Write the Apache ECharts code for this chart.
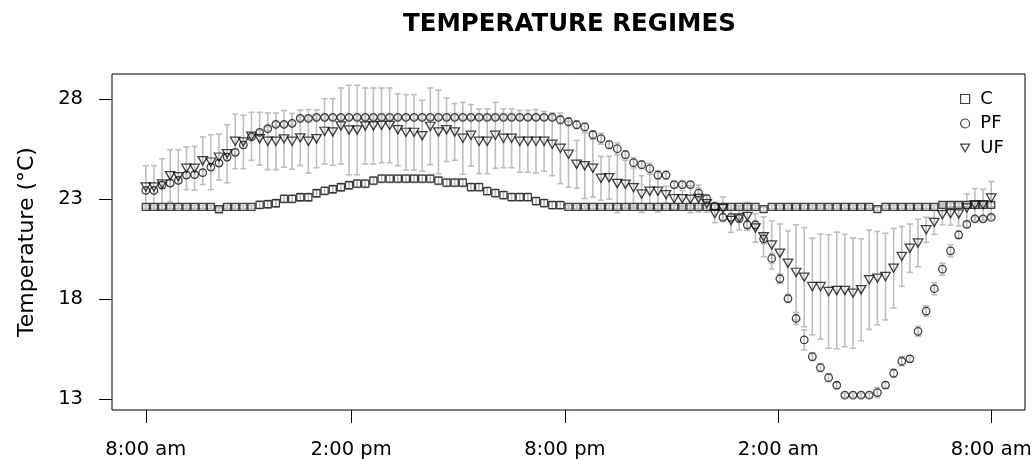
<!DOCTYPE html>
<html><head><meta charset="utf-8">
<script src="https://cdn.jsdelivr.net/npm/echarts@6/dist/echarts.min.js"></script>
<style>html,body{margin:0;padding:0;background:#fff}#c{width:1036px;height:459px}</style>
</head><body><div id="c"></div>
<script>
// Series means (index 1..105, equally spaced over 24 h)
const C_mean = [22.62,22.62,22.62,22.62,22.62,22.62,22.62,22.62,22.62,22.5,
  22.62,22.62,22.62,22.62,22.72,22.75,22.8,23.02,23.02,23.1,
  23.1,23.3,23.42,23.5,23.6,23.7,23.78,23.78,23.93,24.03,
  24.03,24.03,24.03,24.03,24.03,24.03,23.93,23.83,23.83,23.83,
  23.61,23.61,23.41,23.31,23.21,23.11,23.11,23.11,22.91,22.81,
  22.71,22.71,22.62,22.62,22.62,22.62,22.62,22.62,22.62,22.62,
  22.62,22.62,22.62,22.62,22.62,22.62,22.62,22.62,22.62,22.62,
  22.62,22.62,22.62,22.62,22.62,22.62,22.51,22.62,22.62,22.62,
  22.62,22.62,22.62,22.62,22.62,22.62,22.62,22.62,22.62,22.62,
  22.51,22.62,22.62,22.62,22.62,22.62,22.62,22.62,22.72,22.72,
  22.72,22.72,22.72,22.72,22.72];
const PF_mean = [23.44,23.44,23.71,23.81,23.94,24.21,24.23,24.33,24.61,24.81,
  25.11,25.35,25.72,26.12,26.35,26.53,26.75,26.75,26.8,27.05,
  27.05,27.1,27.1,27.1,27.1,27.1,27.1,27.1,27.1,27.1,
  27.1,27.1,27.1,27.1,27.1,27.1,27.1,27.1,27.1,27.1,
  27.1,27.1,27.1,27.1,27.1,27.1,27.1,27.1,27.1,27.1,
  27.1,26.98,26.88,26.73,26.62,26.23,26.03,25.73,25.53,25.23,
  24.83,24.73,24.53,24.21,24.21,23.73,23.73,23.73,23.31,23.03,
  22.64,22.09,22.09,22.04,21.72,21.72,21.02,20.04,19.02,18.03,
  17.03,15.96,15.12,14.57,14.07,13.69,13.19,13.19,13.19,13.19,
  13.32,13.7,14.29,14.89,15.01,16.39,17.4,18.52,19.5,20.42,
  21.22,21.74,22.02,22.02,22.09];
const UF_mean = [23.61,23.61,23.76,24.18,24.13,24.55,24.55,24.93,24.86,25.11,
  25.28,25.9,25.87,26.15,26.03,25.9,25.9,26.02,25.9,26.07,
  25.9,26.03,26.4,26.37,26.67,26.47,26.47,26.67,26.67,26.7,
  26.7,26.48,26.35,26.35,26.18,26.65,26.37,26.48,26.37,26.05,
  26.2,25.9,25.9,26.2,26.05,26.05,25.9,25.9,25.9,25.9,
  25.75,25.55,25.25,24.75,24.68,24.55,24.05,24.08,23.79,23.75,
  23.58,23.26,23.4,23.4,23.23,23.03,23.03,23.0,23.04,22.78,
  22.28,22.54,21.94,22.06,22.14,21.56,21.12,20.71,20.3,19.8,
  19.34,19.1,18.63,18.63,18.38,18.43,18.43,18.3,18.47,18.97,
  19.05,19.13,19.55,20.14,20.55,20.81,21.47,21.84,22.23,22.28,
  22.26,22.56,22.73,22.73,23.06];
// Error half-widths
const C_err = [0.08,0.08,0.08,0.08,0.08,0.08,0.08,0.08,0.08,0.08,
  0.08,0.08,0.08,0.08,0.2,0.2,0.2,0.2,0.2,0.2,
  0.2,0.2,0.2,0.2,0.2,0.2,0.2,0.2,0.2,0.2,
  0.2,0.2,0.2,0.2,0.2,0.2,0.2,0.2,0.2,0.2,
  0.2,0.2,0.2,0.2,0.2,0.2,0.2,0.2,0.2,0.2,
  0.2,0.2,0.08,0.08,0.08,0.08,0.08,0.08,0.08,0.08,
  0.08,0.08,0.08,0.08,0.08,0.08,0.08,0.08,0.08,0.08,
  0.08,0.08,0.08,0.08,0.08,0.08,0.1,0.08,0.08,0.08,
  0.08,0.08,0.08,0.08,0.08,0.08,0.08,0.08,0.08,0.08,
  0.1,0.08,0.08,0.08,0.08,0.08,0.08,0.08,0.1,0.1,
  0.1,0.1,0.1,0.1,0.1];
const PF_err = [0.15,0.15,0.15,0.15,0.15,0.15,0.15,0.15,0.15,0.15,
  0.15,0.15,0.15,0.1,0.1,0.1,0.1,0.1,0.1,0.1,
  0.1,0.1,0.1,0.1,0.1,0.1,0.1,0.1,0.1,0.1,
  0.1,0.1,0.1,0.1,0.1,0.1,0.1,0.1,0.1,0.1,
  0.1,0.1,0.1,0.1,0.1,0.1,0.1,0.1,0.1,0.1,
  0.1,0.2,0.2,0.2,0.2,0.2,0.27,0.2,0.3,0.2,
  0.25,0.2,0.27,0.2,0.2,0.15,0.15,0.15,0.25,0.2,
  0.2,0.2,0.2,0.2,0.2,0.2,0.25,0.25,0.24,0.2,
  0.3,0.5,0.2,0.2,0.2,0.15,0.1,0.1,0.1,0.1,
  0.25,0.15,0.2,0.23,0.15,0.25,0.25,0.3,0.3,0.3,
  0.2,0.15,0.1,0.1,0.1];
const UF_err = [1.07,1.07,1.27,1.3,1.35,1.07,1.1,1.19,1.37,1.15,
  1.45,1.37,1.34,1.2,1.32,1.42,1.42,1.42,1.4,1.39,
  1.59,1.45,1.64,1.67,1.9,2.24,2.24,1.9,1.9,1.87,
  1.87,1.8,1.89,1.89,1.77,1.92,2.09,1.59,1.42,1.8,
  1.54,1.62,1.62,1.65,1.47,1.47,1.55,1.55,1.59,1.5,
  1.57,1.77,1.65,1.19,1.64,1.44,1.1,1.07,1.46,1.2,
  1.0,0.92,0.85,1.04,0.42,0.55,0.4,0.67,0.67,0.42,
  0.45,0.57,0.6,0.6,0.7,0.71,1.0,1.2,1.46,1.61,
  2.38,2.48,2.42,2.63,2.84,2.92,2.81,2.76,2.55,2.49,
  2.34,2.17,1.99,1.5,1.21,1.19,0.63,0.6,0.5,0.58,
  0.6,0.7,0.8,0.77,0.83];
// Axis ticks
const xTickPos = [1, 26.25, 52.55, 78.8, 105];
const xTickLabels = ['8:00 am', '2:00 pm', '8:00 pm', '2:00 am', '8:00 am'];
const yTicks = [13, 18, 23, 28];
const seriesNames = ['C', 'PF', 'UF'];

const FONT = 'DejaVu Sans';
const pts = m => m.map((v, i) => [i + 1, v]);
const errs = (m, e) => m.map((v, i) => [i + 1, v - e[i], v + e[i]]);

function errSeries(m, e) {
  return {
    type: 'custom', silent: true, z: 1,
    encode: { x: 0, y: [1, 2] },
    data: errs(m, e),
    renderItem(params, api) {
      const x = api.value(0), lo = api.value(1), hi = api.value(2);
      const a = api.coord([x, lo]), b = api.coord([x, hi]);
      const w = 3;
      const st = { stroke: '#bebebe', lineWidth: 1.6 };
      return { type: 'group', children: [
        { type: 'line', shape: { x1: a[0], y1: a[1], x2: b[0], y2: b[1] }, style: st },
        { type: 'line', shape: { x1: a[0] - w, y1: a[1], x2: a[0] + w, y2: a[1] }, style: st },
        { type: 'line', shape: { x1: b[0] - w, y1: b[1], x2: b[0] + w, y2: b[1] }, style: st }
      ] };
    }
  };
}
const mk = { color: 'rgba(255,255,255,0)', borderColor: '#111', borderWidth: 1.3 };
const TRI = 'path://M0,0L10,0L5,8.66Z';

const chart = echarts.init(document.getElementById('c'), null, { renderer: 'canvas' });
chart.setOption({
  animation: false,
  backgroundColor: '#fff',
  title: {
    text: 'TEMPERATURE REGIMES', left: 403, top: 12, padding: 0,
    textStyle: { fontFamily: FONT, fontWeight: 'bold', fontSize: 24.5, color: '#000' }
  },
  legend: {
    data: seriesNames, orient: 'vertical', left: 960, top: 89, padding: 0,
    itemWidth: 9, itemHeight: 9, itemGap: 4.5,
    formatter: n => ' ' + n,
    textStyle: { fontFamily: FONT, fontSize: 18, color: '#000', lineHeight: 20 },
    itemStyle: { color: 'rgba(255,255,255,0)', borderColor: '#111', borderWidth: 1.2 }
  },
  grid: {
    left: 112, right: 11, top: 74, bottom: 49, show: true,
    borderColor: '#000', borderWidth: 1, outerBoundsMode: 'none'
  },
  xAxis: {
    type: 'value', min: -3.16, max: 109.16,
    axisLine: { show: false, onZero: false },
    splitLine: { show: false },
    axisTick: { show: true, length: 13, customValues: xTickPos, lineStyle: { color: '#000', width: 1 } },
    axisLabel: {
      customValues: xTickPos, margin: 30, color: '#000', fontFamily: FONT, fontSize: 19.5,
      formatter: v => {
        let best = 0;
        xTickPos.forEach((p, k) => { if (Math.abs(p - v) < Math.abs(xTickPos[best] - v)) best = k; });
        return xTickLabels[best];
      }
    }
  },
  yAxis: {
    type: 'value', min: 12.45, max: 29.27,
    name: 'Temperature (°C)', nameLocation: 'middle', nameGap: 74,
    nameTextStyle: { fontFamily: FONT, fontSize: 22, color: '#000' },
    axisLine: { show: false, onZero: false },
    splitLine: { show: false },
    axisTick: { show: true, length: 13, customValues: yTicks, lineStyle: { color: '#000', width: 1 } },
    axisLabel: { customValues: yTicks, margin: 29, color: '#000', fontFamily: FONT, fontSize: 19.5,
      formatter: v => String(Math.round(v)) }
  },
  series: [
    errSeries(C_mean, C_err),
    errSeries(PF_mean, PF_err),
    errSeries(UF_mean, UF_err),
    { type: 'scatter', name: 'C', symbol: 'rect', symbolSize: 7, z: 3, itemStyle: mk, data: pts(C_mean) },
    { type: 'scatter', name: 'PF', symbol: 'circle', symbolSize: 7.5, z: 3, itemStyle: mk, data: pts(PF_mean) },
    { type: 'scatter', name: 'UF', symbol: TRI, symbolSize: [9.5, 8.2], z: 3, itemStyle: mk, data: pts(UF_mean) }
  ]
});
</script></body></html>
